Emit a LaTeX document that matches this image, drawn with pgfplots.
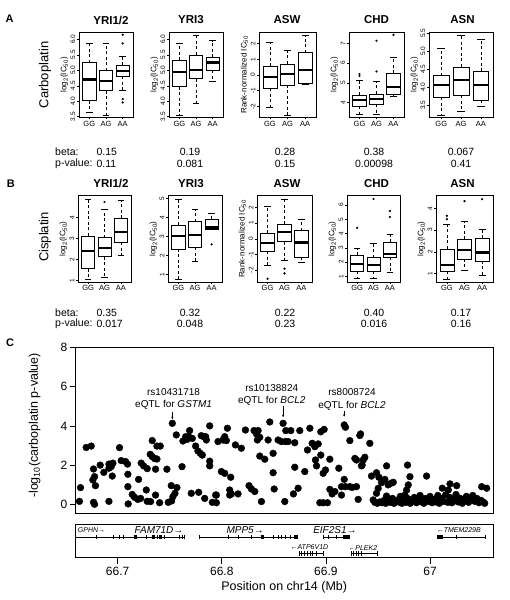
\documentclass[border=0pt]{standalone}
\usepackage{fontspec}
\setmainfont{Liberation Sans}
\usepackage{pgfplots}
\pgfplotsset{compat=1.18}
\usepgfplotslibrary{statistics}
\usetikzlibrary{arrows.meta}
\newcommand{\fs}[1]{\fontsize{#1}{#1}\selectfont}
\pgfplotsset{
  bpaxis/.style={
    anchor=south west,
    scale only axis,
    xmin=0.38, xmax=3.62, xtick={1,2,3}, xticklabels={GG,AG,AA},
    tick align=outside, xtick pos=left, ytick pos=left,
    major tick length=2pt,
    tick style={black, line width=0.5pt},
    axis line style={line width=0.6pt},
    /pgf/number format/assume math mode=true,
    x tick label style={font=\fs{7.5}, inner sep=1.5pt},
    y tick label style={font=\fs{6.5}, rotate=90, anchor=south, inner sep=1.5pt},
    ylabel style={font=\fs{8}, inner sep=1pt},
    boxplot/draw direction=y,
    boxplot/box extend=0.8,
    boxplot/whisker extend=0.4,
    boxplot/every box/.style={draw=black, fill=white, line width=0.5pt},
    boxplot/draw/median/.code={
      \draw[line width=2.3pt] (boxplot box cs:\pgfplotsboxplotvalue{median},0) -- (boxplot box cs:\pgfplotsboxplotvalue{median},1);
    },
    boxplot/draw/lower whisker/.code={
      \draw[line width=0.5pt, dash pattern=on 3pt off 2.5pt] (boxplot cs:\pgfplotsboxplotvalue{lower quartile}) -- (boxplot cs:\pgfplotsboxplotvalue{lower whisker});
      \draw[line width=0.5pt] (boxplot whisker cs:\pgfplotsboxplotvalue{lower whisker},0) -- (boxplot whisker cs:\pgfplotsboxplotvalue{lower whisker},1);
    },
    boxplot/draw/upper whisker/.code={
      \draw[line width=0.5pt, dash pattern=on 3pt off 2.5pt] (boxplot cs:\pgfplotsboxplotvalue{upper quartile}) -- (boxplot cs:\pgfplotsboxplotvalue{upper whisker});
      \draw[line width=0.5pt] (boxplot whisker cs:\pgfplotsboxplotvalue{upper whisker},0) -- (boxplot whisker cs:\pgfplotsboxplotvalue{upper whisker},1);
    },
  },
  bp/.style={black, mark=*, mark size=0.9pt, mark options={fill=black, solid}},
  fixone/.style={yticklabel style={/pgf/number format/fixed, /pgf/number format/fixed zerofill, /pgf/number format/precision=1}},
  logl/.style={ylabel={log\textsubscript{2}(IC\textsubscript{50})}},
  rankl/.style={ylabel={Rank-normalized IC\textsubscript{50}}},
}
\begin{document}
\begin{tikzpicture}
\useasboundingbox (0,0) rectangle (509pt,600pt);

% ---------- Panel letters and row labels ----------
\node[font=\bfseries\fs{11}] at (9.7pt,581pt) {A};
\node[font=\bfseries\fs{11}] at (10.8pt,416.7pt) {B};
\node[font=\bfseries\fs{11}] at (10pt,257pt) {C};
\node[font=\fs{13}, rotate=90] at (45pt,525pt) {Carboplatin};
\node[font=\fs{13}, rotate=90] at (45pt,363pt) {Cisplatin};

% titles
\foreach \t/\x in {{YRI1/2}/111, {YRI3}/191, {ASW}/287, {CHD}/376.5, {ASN}/462.5}{
  \node[font=\bfseries\fs{11.5}] at (\x pt,580pt) {\t};
  \node[font=\bfseries\fs{11.5}] at (\x pt,416.7pt) {\t};
}

% beta / p-value rows
\node[anchor=west, font=\fs{10.5}] at (51.7pt,448.3pt) {beta:};
\node[anchor=west, font=\fs{10.5}] at (51.7pt,436pt) {p-value:};
\node[anchor=west, font=\fs{10.5}] at (51.7pt,287.3pt) {beta:};
\node[anchor=west, font=\fs{10.5}] at (51.7pt,276pt) {p-value:};
\node[anchor=west, font=\fs{10.5}] at (93pt,448.3pt) {0.15};
\node[anchor=west, font=\fs{10.5}] at (93pt,436pt) {0.11};
\node[anchor=west, font=\fs{10.5}] at (93pt,287.3pt) {0.35};
\node[anchor=west, font=\fs{10.5}] at (93pt,276pt) {0.017};
\foreach \x/\b/\p in {190/0.19/0.081, 285/0.28/0.15, 374/0.38/0.00098, 461/0.067/0.41}{
  \node[font=\fs{10.5}] at (\x pt,448.3pt) {\b};
  \node[font=\fs{10.5}] at (\x pt,436pt) {\p};
}
\foreach \x/\b/\p in {190/0.32/0.048, 285/0.22/0.23, 374/0.40/0.016, 461/0.17/0.16}{
  \node[font=\fs{10.5}] at (\x pt,287.3pt) {\b};
  \node[font=\fs{10.5}] at (\x pt,276pt) {\p};
}

% ================= Row A: Carboplatin =================
\begin{axis}[bpaxis, at={(79pt,482.7pt)}, width=54pt, height=85pt,
  ymin=3.48, ymax=6.23, ytick={3.5,4.0,4.5,5.0,5.5,6.0}, fixone, logl]
\addplot[bp, boxplot prepared={draw position=1, lower whisker=3.63, lower quartile=4.02, median=4.70, upper quartile=5.25, upper whisker=5.89}] coordinates {};
\addplot[bp, boxplot prepared={draw position=2, lower whisker=3.55, lower quartile=4.34, median=4.65, upper quartile=4.99, upper whisker=5.86}] coordinates {};
\addplot[bp, boxplot prepared={draw position=3, lower whisker=4.36, lower quartile=4.81, median=4.97, upper quartile=5.16, upper whisker=5.46}] table[row sep=\\, y index=0] {data\\ 6.15\\ 5.87\\ 4.07\\ 3.96\\};
\end{axis}

\begin{axis}[bpaxis, at={(169pt,482.7pt)}, width=54pt, height=85pt,
  ymin=3.48, ymax=6.23, ytick={3.5,4.0,4.5,5.0,5.5,6.0}, fixone, logl]
\addplot[bp, boxplot prepared={draw position=1, lower whisker=3.55, lower quartile=4.47, median=4.95, upper quartile=5.33, upper whisker=5.89}] coordinates {};
\addplot[bp, boxplot prepared={draw position=2, lower whisker=3.93, lower quartile=4.73, median=5.00, upper quartile=5.50, upper whisker=6.12}] coordinates {};
\addplot[bp, boxplot prepared={draw position=3, lower whisker=4.65, lower quartile=5.01, median=5.25, upper quartile=5.42, upper whisker=5.96}] coordinates {};
\end{axis}

\begin{axis}[bpaxis, at={(259pt,482.7pt)}, width=57pt, height=85pt,
  ymin=-2.70, ymax=2.72, ytick={-2,-1,0,1,2}, rankl]
\addplot[bp, boxplot prepared={draw position=1, lower whisker=-2.09, lower quartile=-0.85, median=-0.13, upper quartile=0.57, upper whisker=2.09}] coordinates {};
\addplot[bp, boxplot prepared={draw position=2, lower whisker=-2.55, lower quartile=-0.64, median=0.04, upper quartile=0.70, upper whisker=1.60}] coordinates {};
\addplot[bp, boxplot prepared={draw position=3, lower whisker=-0.57, lower quartile=-0.55, median=0.32, upper quartile=1.43, upper whisker=2.51}] coordinates {};
\end{axis}

\begin{axis}[bpaxis, at={(349pt,482.7pt)}, width=55pt, height=85pt,
  ymin=3.26, ymax=7.56, ytick={4,5,6,7}, logl]
\addplot[bp, boxplot prepared={draw position=1, lower whisker=3.41, lower quartile=3.83, median=4.13, upper quartile=4.40, upper whisker=5.15}] table[row sep=\\, y index=0] {data\\ 5.35\\ 5.45\\};
\addplot[bp, boxplot prepared={draw position=2, lower whisker=3.41, lower quartile=3.93, median=4.17, upper quartile=4.44, upper whisker=5.06}] table[row sep=\\, y index=0] {data\\ 5.58\\ 7.13\\};
\addplot[bp, boxplot prepared={draw position=3, lower whisker=4.34, lower quartile=4.44, median=4.78, upper quartile=5.50, upper whisker=6.29}] table[row sep=\\, y index=0] {data\\ 7.43\\};
\end{axis}

\begin{axis}[bpaxis, at={(429pt,482.7pt)}, width=64pt, height=85pt,
  ymin=3.17, ymax=5.53, ytick={3.5,4.0,4.5,5.0,5.5}, fixone, logl]
\addplot[bp, boxplot prepared={draw position=1, lower whisker=3.23, lower quartile=3.72, median=4.07, upper quartile=4.33, upper whisker=5.08}] coordinates {};
\addplot[bp, boxplot prepared={draw position=2, lower whisker=3.35, lower quartile=3.78, median=4.20, upper quartile=4.57, upper whisker=5.44}] coordinates {};
\addplot[bp, boxplot prepared={draw position=3, lower whisker=3.48, lower quartile=3.65, median=4.06, upper quartile=4.45, upper whisker=5.35}] coordinates {};
\end{axis}

% ================= Row B: Cisplatin =================
\begin{axis}[bpaxis, at={(78pt,318pt)}, width=53pt, height=86.3pt,
  ymin=0.94, ymax=5.04, ytick={1,2,3,4}, logl]
\addplot[bp, boxplot prepared={draw position=1, lower whisker=1.09, lower quartile=1.58, median=2.42, upper quartile=3.13, upper whisker=4.87}] coordinates {};
\addplot[bp, boxplot prepared={draw position=2, lower whisker=1.16, lower quartile=2.15, median=2.56, upper quartile=3.05, upper whisker=4.41}] table[row sep=\\, y index=0] {data\\ 4.74\\};
\addplot[bp, boxplot prepared={draw position=3, lower whisker=2.23, lower quartile=2.82, median=3.31, upper quartile=3.97, upper whisker=4.84}] coordinates {};
\end{axis}

\begin{axis}[bpaxis, at={(168pt,318pt)}, width=54pt, height=86.3pt,
  ymin=0.62, ymax=5.14, ytick={1,2,3,4,5}, logl]
\addplot[bp, boxplot prepared={draw position=1, lower whisker=0.79, lower quartile=2.36, median=3.02, upper quartile=3.61, upper whisker=4.95}] coordinates {};
\addplot[bp, boxplot prepared={draw position=2, lower whisker=1.70, lower quartile=2.43, median=3.09, upper quartile=3.78, upper whisker=4.43}] coordinates {};
\addplot[bp, boxplot prepared={draw position=3, lower whisker=3.38, lower quartile=3.38, median=3.48, upper quartile=3.90, upper whisker=4.22}] table[row sep=\\, y index=0] {data\\ 2.59\\};
\end{axis}

\begin{axis}[bpaxis, at={(257pt,318pt)}, width=55pt, height=86.3pt,
  ymin=-2.75, ymax=2.75, ytick={-2,-1,0,1,2}, rankl]
\addplot[bp, boxplot prepared={draw position=1, lower whisker=-1.71, lower quartile=-0.78, median=-0.27, upper quartile=0.36, upper whisker=2.05}] table[row sep=\\, y index=0] {data\\ -2.54\\};
\addplot[bp, boxplot prepared={draw position=2, lower whisker=-1.37, lower quartile=-0.17, median=0.42, upper quartile=0.93, upper whisker=2.52}] table[row sep=\\, y index=0] {data\\ -1.90\\ -2.20\\};
\addplot[bp, boxplot prepared={draw position=3, lower whisker=-1.48, lower quartile=-1.18, median=-0.23, upper quartile=0.53, upper whisker=1.27}] coordinates {};
\end{axis}

\begin{axis}[bpaxis, at={(347pt,318pt)}, width=53pt, height=86.3pt,
  ymin=0.6, ymax=6.65, ytick={1,2,3,4,5,6}, logl]
\addplot[bp, boxplot prepared={draw position=1, lower whisker=0.88, lower quartile=1.37, median=1.88, upper quartile=2.47, upper whisker=2.95}] table[row sep=\\, y index=0] {data\\ 4.40\\};
\addplot[bp, boxplot prepared={draw position=2, lower whisker=0.84, lower quartile=1.37, median=1.77, upper quartile=2.30, upper whisker=3.35}] table[row sep=\\, y index=0] {data\\ 6.42\\};
\addplot[bp, boxplot prepared={draw position=3, lower whisker=1.28, lower quartile=2.35, median=2.56, upper quartile=3.37, upper whisker=3.95}] table[row sep=\\, y index=0] {data\\ 5.16\\ 5.58\\};
\end{axis}

\begin{axis}[bpaxis, at={(436pt,318pt)}, width=57pt, height=86.3pt,
  ymin=0.62, ymax=4.58, ytick={1,2,3,4}, logl]
\addplot[bp, boxplot prepared={draw position=1, lower whisker=0.76, lower quartile=1.11, median=1.41, upper quartile=2.14, upper whisker=3.27}] table[row sep=\\, y index=0] {data\\ 3.66\\ 3.50\\};
\addplot[bp, boxplot prepared={draw position=2, lower whisker=1.14, lower quartile=1.68, median=2.10, upper quartile=2.58, upper whisker=3.39}] table[row sep=\\, y index=0] {data\\ 4.33\\};
\addplot[bp, boxplot prepared={draw position=3, lower whisker=0.95, lower quartile=1.59, median=1.97, upper quartile=2.63, upper whisker=3.04}] table[row sep=\\, y index=0] {data\\ 4.42\\};
\end{axis}

% ================= Panel C: scatter =================
\begin{axis}[anchor=south west, at={(75.5pt,86.7pt)}, scale only axis, width=417.5pt, height=165.8pt,
  xmin=66.6595, xmax=67.0605, ymin=-0.46, ymax=8,
  xtick=\empty, ytick={0,2,4,6,8}, ytick pos=left, tick align=outside, major tick length=6pt,
  tick style={black, line width=0.6pt}, axis line style={line width=0.6pt},
  /pgf/number format/assume math mode=true,
  y tick label style={font=\fs{12}, inner sep=2pt},
  ylabel={-log\textsubscript{10}(carboplatin p-value)},
  ylabel style={font=\fs{12.5}, at={(axis description cs:-0.098,0.53)}, anchor=center},
]
\addplot[only marks, mark=*, mark size=3.4pt, black] table {
x y
66.6643 0.85
66.6633 0.15
66.6698 2.90
66.6746 2.97
66.6768 1.80
66.6778 1.41
66.6762 1.24
66.6787 0.95
66.6768 0.10
66.6778 0.00
66.6832 2.00
66.6867 1.63
66.6916 2.05
66.6938 1.92
66.6954 2.10
66.6916 1.84
66.6948 1.44
66.6916 0.15
66.7018 2.89
66.7034 2.23
66.7076 2.18
66.7095 2.05
66.7098 1.53
66.7098 0.90
66.7101 0.02
66.7140 0.50
66.7162 0.36
66.7194 0.25
66.7220 0.30
66.7201 1.27
66.7226 2.10
66.7249 1.96
66.7284 1.82
66.7275 0.73
66.7284 0.15
66.7316 0.14
66.7313 2.55
66.7332 3.25
66.7377 2.97
66.7409 2.97
66.7355 2.33
66.7377 2.31
66.7332 2.43
66.7364 1.79
66.7364 0.47
66.7403 0.08
66.7473 1.79
66.7486 0.10
66.7518 0.17
66.7515 0.95
66.7569 0.85
66.7550 0.56
66.7531 0.39
66.7525 4.13
66.7563 3.54
66.7618 1.92
66.7627 3.23
66.7666 3.31
66.7682 3.45
66.7691 3.76
66.7653 3.45
66.7717 3.36
66.7749 2.97
66.7771 2.72
66.7794 2.60
66.7813 2.51
66.7803 3.50
66.7826 3.45
66.7852 3.28
66.7845 3.45
66.7707 0.56
66.7778 0.61
66.7836 0.30
66.7884 4.00
66.7884 2.20
66.7884 1.96
66.7909 0.10
66.7941 0.47
66.7964 3.20
66.7948 0.47
66.7948 0.08
66.7996 1.67
66.8028 1.58
66.8086 1.38
66.8012 3.28
66.8044 3.25
66.8028 3.45
66.8054 3.88
66.8076 0.73
66.8092 0.53
66.8156 0.53
66.8076 0.47
66.8131 3.03
66.8188 2.86
66.8227 3.79
66.8262 0.95
66.8285 0.78
66.8317 0.65
66.8310 3.76
66.8349 3.76
66.8333 3.59
66.8365 3.42
66.8342 3.28
66.8365 2.46
66.8413 2.30
66.8381 0.14
66.8461 4.20
66.8445 3.28
66.8493 2.60
66.8493 1.61
66.8503 0.78
66.8541 3.28
66.8573 3.20
66.8589 4.13
66.8615 3.76
66.8663 3.76
66.8605 0.14
66.8612 3.20
66.8637 3.20
66.8701 3.14
66.8701 1.89
66.8688 0.53
66.8733 0.82
66.8749 3.76
66.8797 1.67
66.8823 2.77
66.8846 3.88
66.8868 3.11
66.8894 2.94
66.8926 3.08
66.8951 3.70
66.8983 3.82
66.8900 2.26
66.8910 1.96
66.8951 2.51
66.8974 1.58
66.8996 1.75
66.9038 2.30
66.9124 1.84
66.8942 0.08
66.8974 0.08
66.9015 0.08
66.9038 0.76
66.9060 0.53
66.9086 0.65
66.9176 4.05
66.9188 3.93
66.9230 3.25
66.9176 1.27
66.9188 0.90
66.9150 0.90
66.9230 0.90
66.9252 0.86
66.9150 0.47
66.9310 0.25
66.9333 3.59
66.9294 2.26
66.9342 1.96
66.9326 3.51
66.9422 3.11
66.9278 2.34
66.9358 2.26
66.9374 2.40
66.9348 2.00
66.9438 1.44
66.9486 1.61
66.9509 1.38
66.9534 1.10
66.9566 1.27
66.9583 1.96
66.9598 0.99
66.9624 1.07
66.9647 1.12
66.9294 0.90
66.9486 0.56
66.9502 0.81
66.9582 0.42
66.9784 2.00
66.9807 1.41
66.9791 0.99
66.9775 0.73
66.9759 0.47
66.9967 1.44
67.0192 1.04
67.0256 0.95
67.0176 0.73
67.0118 0.82
67.0496 0.90
67.0544 0.82
66.9454 0.22
66.9470 0.10
66.9493 0.05
66.9518 0.12
66.9540 0.08
66.9560 0.20
66.9575 0.05
66.9600 0.15
66.9620 0.10
66.9640 0.30
66.9655 0.05
66.9680 0.18
66.9700 0.12
66.9715 0.40
66.9730 0.05
66.9750 0.20
66.9770 0.10
66.9790 0.28
66.9810 0.05
66.9830 0.15
66.9850 0.35
66.9870 0.08
66.9890 0.22
66.9905 0.45
66.9920 0.12
66.9940 0.05
66.9960 0.30
66.9980 0.15
67.0000 0.40
67.0020 0.08
67.0040 0.25
67.0060 0.12
67.0075 0.45
67.0090 0.05
67.0110 0.30
67.0130 0.15
67.0150 0.48
67.0170 0.10
67.0190 0.35
67.0210 0.08
67.0230 0.25
67.0250 0.50
67.0270 0.12
67.0290 0.30
67.0310 0.05
67.0330 0.20
67.0350 0.40
67.0370 0.10
67.0390 0.28
67.0410 0.45
67.0430 0.15
67.0450 0.30
67.0470 0.08
67.0490 0.20
67.0510 0.12
67.0525 0.05
};
\node[align=center, font=\fontsize{10}{12.5}\selectfont] at (axis cs:66.7537,5.38) {rs10431718\\eQTL for \textit{GSTM1}};
\draw[-{Stealth[length=2.5pt,width=2.2pt]}, line width=0.4pt] (axis cs:66.7525,4.72) -- (axis cs:66.7525,4.34);
\node[align=center, font=\fontsize{10}{12.5}\selectfont] at (axis cs:66.8480,5.58) {rs10138824\\eQTL for \textit{BCL2}};
\draw[-{Stealth[length=2.5pt,width=2.2pt]}, line width=0.4pt] (axis cs:66.8589,5.03) -- (axis cs:66.8589,4.44);
\node[align=center, font=\fontsize{10}{12.5}\selectfont] at (axis cs:66.9251,5.34) {rs8008724\\eQTL for \textit{BCL2}};
\draw[-{Stealth[length=2.5pt,width=2.2pt]}, line width=0.4pt] (axis cs:66.9175,4.76) -- (axis cs:66.9175,4.47);
\end{axis}

% ================= Gene track =================
\begin{axis}[anchor=south west, at={(75.5pt,42.3pt)}, scale only axis, width=417.5pt, height=33.7pt,
  xmin=66.6595, xmax=67.0605, ymin=0, ymax=1, ytick=\empty,
  xtick={66.7,66.8,66.9,67}, xticklabels={66.7,66.8,66.9,67},
  xtick pos=left, tick align=outside, major tick length=6pt,
  tick style={black, line width=0.6pt}, axis line style={line width=0.6pt},
  x tick label style={font=\fs{12}},
  xlabel={Position on chr14 (Mb)}, xlabel style={font=\fs{12.5}, inner sep=2pt},
]
% top row genes
\addplot[black, line width=0.5pt] coordinates {(66.6595,0.62) (66.7643,0.62)};
\addplot[black, line width=0.5pt] coordinates {(66.7781,0.62) (66.8717,0.62)};
\addplot[black, line width=0.5pt] coordinates {(66.8973,0.62) (66.9236,0.62)};
\addplot[black, line width=0.5pt] coordinates {(67.0070,0.62) (67.0528,0.62)};
\addplot[black, only marks, mark=|, mark size=2.3pt, mark options={line width=0.5pt}] coordinates {
 (66.6794,0.62) (66.6954,0.62) (66.7012,0.62) (66.7050,0.62) (66.7275,0.62) (66.7377,0.62)
 (66.7451,0.62) (66.7595,0.62) (66.7621,0.62) (66.7643,0.62)
 (66.7781,0.62) (66.8060,0.62) (66.8162,0.62) (66.8284,0.62) (66.8493,0.62) (66.8541,0.62)
 (66.8573,0.62) (66.8605,0.62) (66.8653,0.62)
 (66.8973,0.62) (66.9022,0.62) (66.9102,0.62) (66.9166,0.62)
 (67.0255,0.62) (67.0528,0.62)};
\addplot[black, line width=4pt] coordinates {(66.7153,0.62) (66.7188,0.62)};
\addplot[black, line width=4pt] coordinates {(66.7329,0.62) (66.7355,0.62)};
\addplot[black, line width=4pt] coordinates {(66.7396,0.62) (66.7422,0.62)};
\addplot[black, line width=4pt] coordinates {(66.8374,0.62) (66.8406,0.62)};
\addplot[black, line width=4pt] coordinates {(66.8694,0.62) (66.8733,0.62)};
\addplot[black, line width=4pt] coordinates {(66.9172,0.62) (66.9236,0.62)};
\addplot[black, line width=4pt] coordinates {(67.0070,0.62) (67.0121,0.62)};
% bottom row genes
\addplot[black, line width=0.5pt] coordinates {(66.8743,0.13) (66.8973,0.13)};
\addplot[black, line width=0.5pt] coordinates {(66.9240,0.13) (66.9493,0.13)};
\addplot[black, only marks, mark=|, mark size=2.3pt, mark options={line width=0.5pt}] coordinates {
 (66.8743,0.13) (66.8765,0.13) (66.8788,0.13) (66.8820,0.13) (66.8845,0.13) (66.8871,0.13)
 (66.8909,0.13) (66.8973,0.13)
 (66.9240,0.13) (66.9262,0.13) (66.9288,0.13) (66.9313,0.13) (66.9342,0.13) (66.9493,0.13)};
% labels
\node[anchor=west, font=\itshape\fs{7}, inner sep=0pt] at (axis cs:66.6617,0.82) {GPHN→};
\node[anchor=west, font=\itshape\fs{10}, inner sep=0pt] at (axis cs:66.7162,0.82) {FAM71D→};
\node[anchor=west, font=\itshape\fs{10}, inner sep=0pt] at (axis cs:66.8044,0.82) {MPP5→};
\node[anchor=west, font=\itshape\fs{10}, inner sep=0pt] at (axis cs:66.8877,0.82) {EIF2S1→};
\node[anchor=west, font=\itshape\fs{7}, inner sep=0pt] at (axis cs:67.0063,0.82) {←TMEM229B};
\node[anchor=west, font=\itshape\fs{7}, inner sep=0pt] at (axis cs:66.8659,0.30) {←ATP6V1D};
\node[anchor=west, font=\itshape\fs{7}, inner sep=0pt] at (axis cs:66.9214,0.30) {←PLEK2};
\end{axis}
\end{tikzpicture}
\end{document}
